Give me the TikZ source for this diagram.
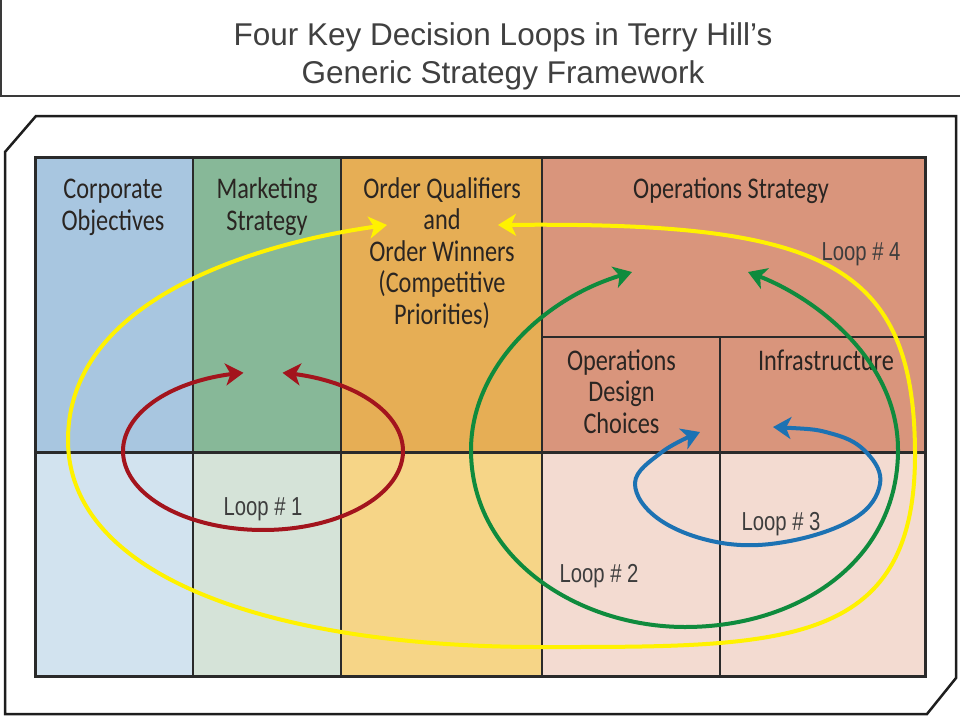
\documentclass[tikz,border=0pt]{standalone}
\usepackage{fontspec}
\setmainfont{Liberation Sans}
\newfontfamily\boxfont[FakeStretch=0.81]{Carlito}
\newfontfamily\loopfont[FakeStretch=0.78]{Liberation Sans}
\usetikzlibrary{arrows.meta}
\definecolor{cAu}{HTML}{A8C6E0}
\definecolor{cAl}{HTML}{D2E3EF}
\definecolor{cBu}{HTML}{87B898}
\definecolor{cBl}{HTML}{D5E3D8}
\definecolor{cCu}{HTML}{E6AE55}
\definecolor{cCl}{HTML}{F6D587}
\definecolor{cDu}{HTML}{D9957C}
\definecolor{cDl}{HTML}{F3DBD1}
\definecolor{gridc}{HTML}{2A2A2A}
\definecolor{framec}{HTML}{1E1E1E}
\definecolor{headc}{HTML}{3A3A3A}
\definecolor{titlegray}{HTML}{404040}
\definecolor{labeltext}{HTML}{2A2522}
\definecolor{looptext}{HTML}{3D3D3D}
\definecolor{loopred}{HTML}{A3141D}
\definecolor{loopgreen}{HTML}{0F8B3D}
\definecolor{loopblue}{HTML}{1C72B3}
\definecolor{loopyellow}{HTML}{FFF200}
\begin{document}
\begin{tikzpicture}[x=1pt,y=-1pt,
  titlestyle/.style={font=\fontsize{31.5}{38}\selectfont, text=titlegray, anchor=base, inner sep=0pt},
  boxlabel/.style={font=\boxfont\fontsize{30}{31.5}\selectfont, text=labeltext, anchor=base, inner sep=0pt},
  looplabel/.style={font=\loopfont\fontsize{26}{28}\selectfont, text=looptext, anchor=base, inner sep=0pt},
  gridline/.style={draw=gridc, line width=2pt},
  loopline/.style={line width=4pt,
    {Stealth[length=18pt,width=22pt,inset=5pt]}-{Stealth[length=18pt,width=22pt,inset=5pt]}}
]
\useasboundingbox (0,0) rectangle (960,720);
\fill[white] (0,0) rectangle (960,720);

% header box
\draw[headc, line width=1.5pt] (1,0) -- (1,96) -- (960,96);
\node[titlestyle] (title1) at (503,45) {Four Key Decision Loops in Terry Hill’s};
\node[titlestyle] (title2) at (503,83) {Generic Strategy Framework};

% outer chamfered frame
\draw[framec, line width=2.5pt, line join=miter]
  (5,152) -- (36,116) -- (956,116) -- (956,678) -- (927,714) -- (5,714) -- cycle;

% cell fills
\fill[cAu] (35,157) rectangle (193,452);
\fill[cAl] (35,452) rectangle (193,676);
\fill[cBu] (193,157) rectangle (341,452);
\fill[cBl] (193,452) rectangle (341,676);
\fill[cCu] (341,157) rectangle (542,452);
\fill[cCl] (341,452) rectangle (542,676);
\fill[cDu] (542,157) rectangle (925,452);
\fill[cDl] (542,452) rectangle (925,676);

% grid lines
\draw[gridline] (193,157) -- (193,676);
\draw[gridline] (341,157) -- (341,676);
\draw[gridline] (542,157) -- (542,676);
\draw[gridline] (720,337) -- (720,676);
\draw[gridline] (542,337) -- (925,337);
\draw[draw=gridc, line width=3pt] (35,452) -- (925,452);
\draw[draw=gridc, line width=3pt] (35,157) rectangle (925,676);

% cell labels
\node[boxlabel] (corp1) at (113,198) {Corporate};
\node[boxlabel] (corp2) at (113,230) {Objectives};
\node[boxlabel] (mkt1) at (267,198) {Marketing};
\node[boxlabel] (mkt2) at (267,230) {Strategy};
\node[boxlabel] (oq1) at (442,198) {Order Qualifiers};
\node[boxlabel] (oq2) at (442,229.5) {and};
\node[boxlabel] (oq3) at (442,261) {Order Winners};
\node[boxlabel] (oq4) at (442,292.5) {(Competitive};
\node[boxlabel] (oq5) at (442,324) {Priorities)};
\node[boxlabel] (opsstrat) at (731,198) {Operations Strategy};
\node[boxlabel] (ods1) at (621.5,370) {Operations};
\node[boxlabel] (ods2) at (621.5,401.5) {Design};
\node[boxlabel] (ods3) at (621.5,433) {Choices};
\node[boxlabel] (infra) at (826,370) {Infrastructure};

% loop labels
\node[looplabel] (loop1) at (263,515) {Loop \# 1};
\node[looplabel] (loop2) at (599,582) {Loop \# 2};
\node[looplabel] (loop3) at (781,530) {Loop \# 3};
\node[looplabel] (loop4) at (861,260) {Loop \# 4};

% loop 1 (red)
\draw[loopline, color=loopred]
  plot[domain=-82:262, samples=90, smooth] ({263+140*cos(\x)}, {451+79*sin(\x)});

% loop 3 (blue)
\draw[loopline, color=loopblue]
  plot[smooth, tension=0.65] coordinates {(773,427) (833,434) (867,453) (880,484) (855,518) (790,541) (722,543) (660,520) (635,483) (662,452) (700,432)};

% loop 2 (green)
\coordinate (g0) at (632,272);
\coordinate (g4) at (748,272);
\draw[loopline, color=loopgreen]
  (g0) .. controls (540,300) and (471,370) .. (471,450)
       .. controls (471,560) and (580,627) .. (685,627)
       .. controls (800,627) and (898,560) .. (898,450)
       .. controls (898,360) and (815,298) .. (g4);

% loop 4 (yellow)
\coordinate (y0) at (387,225);
\coordinate (y4) at (498,225);
\draw[loopline, color=loopyellow]
  (y0) .. controls (280,240) and (68,290) .. (68,440)
       .. controls (68,580) and (280,647) .. (539,647)
       .. controls (780,647) and (915,650) .. (915,455)
       .. controls (915,260) and (820,222) .. (y4);
\end{tikzpicture}
\end{document}
